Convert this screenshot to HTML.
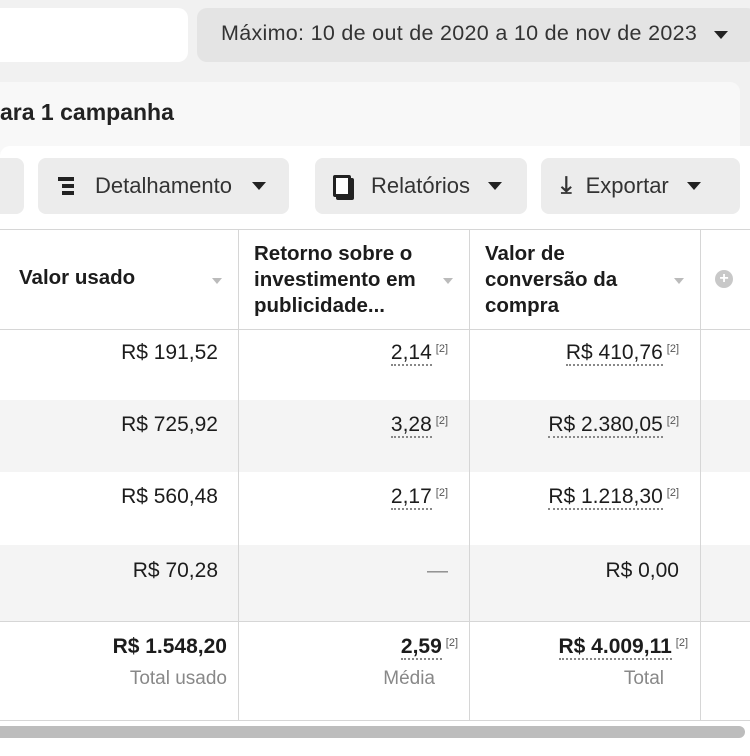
<!DOCTYPE html>
<html><head><meta charset="utf-8"><style>
*{margin:0;padding:0;box-sizing:border-box}
body{width:750px;height:752px;overflow:hidden;background:#fff;font-family:"Liberation Sans",sans-serif;color:#1c1c1c;position:relative}
.a{position:absolute}
.btn{position:absolute;background:#ececec;border-radius:8px;height:56px;top:158px;font-size:22px;color:#333;display:flex;align-items:center}
.tri{display:inline-block;width:0;height:0;border-left:7px solid transparent;border-right:7px solid transparent;border-top:8px solid #222}
.vl{position:absolute;top:229px;width:1px;height:492px;background:#d6d6d6}
.hl{position:absolute;left:0;width:750px;height:1px;background:#d6d6d6}
.cell{position:absolute;font-size:21px;text-align:right;white-space:nowrap}
.u{border-bottom:2px dotted #888}
sup{font-size:11px;color:#555;margin-left:4px;vertical-align:7px}
.h{position:absolute;font-size:20.5px;font-weight:bold;line-height:26px}
.st{position:absolute;width:0;height:0;border-left:5px solid transparent;border-right:5px solid transparent;border-top:6px solid #bbb}
</style></head><body>
<div class="a" style="left:0;top:0;width:750px;height:146px;background:#f1f1f1"></div>
<div class="a" style="left:-10px;top:8px;width:198px;height:54px;background:#fff;border-radius:10px"></div>
<div class="a" style="left:197px;top:8px;width:560px;height:54px;background:#e4e4e4;border-radius:10px"></div>
<div class="a" style="left:221px;top:21px;font-size:21.5px;color:#333;letter-spacing:0.3px">Máximo: 10 de out de 2020 a 10 de nov de 2023</div>
<div class="a tri" style="left:714px;top:31px;display:block"></div>
<div class="a" style="left:-10px;top:82px;width:750px;height:80px;background:#f8f8f8;border-radius:10px"></div>
<div class="a" style="left:0;top:99px;font-size:23px;font-weight:bold;color:#222">ara 1 campanha</div>
<div class="a" style="left:0;top:146px;width:750px;height:610px;background:#fff;border-radius:10px 0 0 0"></div>
<div class="btn" style="left:-10px;width:34px"></div>
<div class="btn" style="left:38px;width:251px">
 <div style="margin-left:20px;width:16px;height:18px;position:relative"><div class="a" style="left:0;top:0;width:16px;height:4px;background:#222"></div><div class="a" style="left:4px;top:7px;width:12px;height:4px;background:#222"></div><div class="a" style="left:4px;top:14px;width:12px;height:4px;background:#222"></div></div>
 <span style="margin-left:21px">Detalhamento</span><span class="tri" style="margin-left:20px"></span></div>
<div class="btn" style="left:315px;width:212px">
 <div style="margin-left:18px;width:18px;height:22px;border:3px solid #222;border-radius:2px;background:#fff;box-shadow:3px 3px 0 #222"></div>
 <span style="margin-left:20px">Relatórios</span><span class="tri" style="margin-left:18px"></span></div>
<div class="btn" style="left:541px;width:199px">
 <span style="margin-left:20px;font-size:24px;font-weight:bold">⤓</span>
 <span style="margin-left:14px">Exportar</span><span class="tri" style="margin-left:18px"></span></div>

<div class="hl" style="top:229px"></div>
<div class="hl" style="top:329px"></div>
<div class="a" style="left:0;top:400px;width:750px;height:72px;background:#f4f4f4"></div>
<div class="a" style="left:0;top:545px;width:750px;height:76px;background:#f4f4f4"></div>
<div class="hl" style="top:621px"></div>
<div class="hl" style="top:720px"></div>
<div class="vl" style="left:238px"></div>
<div class="vl" style="left:469px"></div>
<div class="vl" style="left:700px"></div>

<div class="h" style="left:19px;top:265px">Valor usado</div>
<div class="h" style="left:254px;top:241px">Retorno sobre o<br>investimento em<br>publicidade...</div>
<div class="h" style="left:485px;top:241px">Valor de<br>conversão da<br>compra</div>
<div class="st" style="left:212px;top:278px"></div>
<div class="st" style="left:443px;top:278px"></div>
<div class="st" style="left:674px;top:278px"></div>
<div class="a" style="left:715px;top:270px;width:18px;height:18px;border-radius:50%;background:#c8c8c8;color:#fff;font-size:16px;line-height:18px;text-align:center;font-weight:bold">+</div>

<div class="cell" style="right:532px;top:341px">R$ 191,52</div>
<div class="cell" style="right:302px;top:341px"><span class="u">2,14</span><sup>[2]</sup></div>
<div class="cell" style="right:71px;top:341px"><span class="u">R$ 410,76</span><sup>[2]</sup></div>
<div class="cell" style="right:532px;top:413px">R$ 725,92</div>
<div class="cell" style="right:302px;top:413px"><span class="u">3,28</span><sup>[2]</sup></div>
<div class="cell" style="right:71px;top:413px"><span class="u">R$ 2.380,05</span><sup>[2]</sup></div>
<div class="cell" style="right:532px;top:485px">R$ 560,48</div>
<div class="cell" style="right:302px;top:485px"><span class="u">2,17</span><sup>[2]</sup></div>
<div class="cell" style="right:71px;top:485px"><span class="u">R$ 1.218,30</span><sup>[2]</sup></div>
<div class="cell" style="right:532px;top:559px">R$ 70,28</div>
<div class="cell" style="right:302px;top:559px;color:#888">—</div>
<div class="cell" style="right:71px;top:559px">R$ 0,00</div>
<div class="cell" style="right:523px;top:635px;font-weight:bold">R$ 1.548,20</div>
<div class="cell" style="right:292px;top:635px;font-weight:bold"><span class="u">2,59</span><sup style="font-weight:normal">[2]</sup></div>
<div class="cell" style="right:62px;top:635px;font-weight:bold"><span class="u">R$ 4.009,11</span><sup style="font-weight:normal">[2]</sup></div>
<div class="cell" style="right:523px;top:668px;font-size:19px;color:#888">Total usado</div>
<div class="cell" style="right:315px;top:668px;font-size:19px;color:#888">Média</div>
<div class="cell" style="right:86px;top:668px;font-size:19px;color:#888">Total</div>
<div class="a" style="left:-6px;top:726px;width:751px;height:12px;border-radius:6px;background:#bdbdbd"></div>
</body></html>
